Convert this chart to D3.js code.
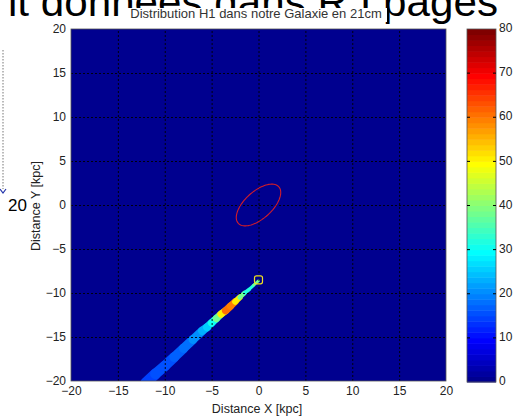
<!DOCTYPE html>
<html>
<head>
<meta charset="utf-8">
<script src="https://cdn.jsdelivr.net/npm/d3@7"></script>
<style>
  body { margin: 0; background: #fff; }
  svg { display: block; font-family: "Liberation Sans", Arial, sans-serif; }
</style>
</head>
<body>
<div id="carte"></div>
<script>
// Valeurs
const ticksXY = [-20, -15, -10, -5, 0, 5, 10, 15, 20];
const ticksBarre = [0, 10, 20, 30, 40, 50, 60, 70, 80];
const fondValeur = 0;

// trainee H1 vue depuis le soleil (x, y en kpc, intensite, largeur en kpc)
const traineeX = [-12, -11, -10, -9, -8, -7, -6, -5.5, -5, -4.5, -4, -3.5, -3, -2.5, -2, -1.5, -1, -0.5, 0];
const traineeY = [-20.2, -19.2, -18.3, -17.3, -16.3, -15.3, -14.3, -13.9, -13.4, -12.9, -12.4, -12.0, -11.5, -11.0, -10.5, -10.0, -9.6, -9.1, -8.6];
const traineeV = [14, 15, 15, 16, 17, 19, 21, 24, 28, 33, 42, 58, 63, 56, 46, 30, 33, 30, 45];
const traineeL = [1.2, 1.15, 1.1, 1.05, 1.0, 0.95, 0.9, 0.85, 0.8, 0.78, 0.75, 0.78, 0.8, 0.7, 0.55, 0.42, 0.36, 0.3, 0.3];

const soleil = [0, -8.5];
// ellipse rouge : centre, demi-axes, angle
const ellipseCentre = [0, 0];
const ellipseAxes = [3.0, 1.5];
const ellipseAngle = 45;

const svg = d3.select("#carte").append("svg")
    .attr("width", 514)
    .attr("height", 419);

// texte de la page derriere la figure
svg.append("text")
    .attr("x", 8).attr("y", 16)
    .attr("font-size", 41)
    .attr("textLength", 490)
    .attr("lengthAdjust", "spacingAndGlyphs")
    .attr("fill", "#000")
    .text("it données dans R I pages");

// restes a gauche
svg.append("line")
    .attr("x1", 3).attr("x2", 3).attr("y1", 50).attr("y2", 189)
    .attr("stroke", "#777").attr("stroke-dasharray", "1.5,1.5");
svg.append("path")
    .attr("d", "M0,189 L3,193 L6,189")
    .attr("fill", "none").attr("stroke", "#2233aa").attr("stroke-width", 1.2);
svg.append("text")
    .attr("x", 8).attr("y", 211)
    .attr("font-size", 17)
    .attr("fill", "#000")
    .text("20");

const margin = {top: 29, left: 71};
const width = 375, height = 352;

const x = d3.scaleLinear().domain([-20, 20]).range([0, width]);
const y = d3.scaleLinear().domain([-20, 20]).range([height, 0]);

// colormap jet(64) facon matlab
const clamp = v => Math.max(0, Math.min(1, v));
const jet = t => {
    const k = Math.min(63, Math.max(0, Math.floor(t * 64)));
    const u = (k + 1) / 64;
    return d3.rgb(255 * clamp(1.5 - Math.abs(4 * u - 3)),
                  255 * clamp(1.5 - Math.abs(4 * u - 2)),
                  255 * clamp(1.5 - Math.abs(4 * u - 1))).toString();
};
const couleur = v => jet(v / 80);

const g = svg.append("g")
    .attr("transform", `translate(${margin.left},${margin.top})`);

g.append("clipPath").attr("id", "clip")
  .append("rect").attr("width", width).attr("height", height);

g.append("rect")
    .attr("width", width).attr("height", height)
    .attr("fill", couleur(fondValeur));

const zone = g.append("g").attr("clip-path", "url(#clip)");

const pts = traineeX.map((d, i) => ({x: d, y: traineeY[i], v: traineeV[i], l: traineeL[i]}));
const segs = pts.slice(1).map((d, i) => [pts[i], d]);

zone.selectAll(".seg")
  .data(segs)
  .join("line")
    .attr("class", "seg")
    .attr("x1", d => x(d[0].x)).attr("y1", d => y(d[0].y))
    .attr("x2", d => x(d[1].x)).attr("y2", d => y(d[1].y))
    .attr("stroke", d => couleur((d[0].v + d[1].v) / 2))
    .attr("stroke-width", d => (d[0].l + d[1].l) / 2 * (x(1) - x(0)))
    .attr("stroke-linecap", "round");

// grille
const xAxis = g.append("g")
    .attr("transform", `translate(0,${height})`)
    .call(d3.axisBottom(x).tickValues(ticksXY).tickSize(-height).tickPadding(5).tickFormat(d3.format("d")));
const yAxis = g.append("g")
    .call(d3.axisLeft(y).tickValues(ticksXY).tickSize(-width).tickPadding(5).tickFormat(d3.format("d")));

[xAxis, yAxis].forEach(a => {
    a.select(".domain").remove();
    a.selectAll(".tick line")
        .attr("stroke", "#000")
        .attr("stroke-dasharray", "2,2")
        .attr("opacity", 0.9);
    a.selectAll(".tick text")
        .attr("fill", "#222")
        .attr("font-size", 12)
        .attr("font-family", "'Liberation Sans', Arial, sans-serif");
});
xAxis.selectAll(".tick").filter(d => d === -20 || d === 20).select("line").remove();
yAxis.selectAll(".tick").filter(d => d === -20 || d === 20).select("line").remove();

// ellipse
const rad = ellipseAngle * Math.PI / 180;
const ellipse = d3.range(0, 361, 4).map(t => {
    const a = t * Math.PI / 180;
    const ex = ellipseAxes[0] * Math.cos(a), ey = ellipseAxes[1] * Math.sin(a);
    return [ellipseCentre[0] + ex * Math.cos(rad) - ey * Math.sin(rad),
            ellipseCentre[1] + ex * Math.sin(rad) + ey * Math.cos(rad)];
});
g.append("path")
    .attr("d", d3.line().x(d => x(d[0])).y(d => y(d[1]))(ellipse))
    .attr("fill", "none")
    .attr("stroke", "#d01c2a")
    .attr("stroke-width", 1.1);

// soleil
g.append("rect")
    .attr("x", x(soleil[0]) - 4).attr("y", y(soleil[1]) - 4)
    .attr("width", 8).attr("height", 8).attr("rx", 2)
    .attr("fill", "none")
    .attr("stroke", "#f0e020")
    .attr("stroke-width", 1.2);

g.append("rect")
    .attr("width", width).attr("height", height)
    .attr("fill", "none").attr("stroke", "#555").attr("stroke-width", 0.8);

// titres
svg.append("rect")
    .attr("x", 125).attr("y", 8).attr("width", 262).attr("height", 14)
    .attr("fill", "#fff");
svg.append("text")
    .attr("x", 256).attr("y", 18)
    .attr("text-anchor", "middle")
    .attr("font-size", 13)
    .attr("fill", "#333")
    .text("Distribution H1 dans notre Galaxie en 21cm");

svg.append("text")
    .attr("x", 257).attr("y", 413)
    .attr("text-anchor", "middle")
    .attr("font-size", 12.5)
    .attr("fill", "#222")
    .text("Distance X [kpc]");

svg.append("text")
    .attr("transform", "translate(40,206) rotate(-90)")
    .attr("text-anchor", "middle")
    .attr("font-size", 12.5)
    .attr("fill", "#222")
    .text("Distance Y [kpc]");

// barre de couleur
const barre = svg.append("g").attr("transform", "translate(467,29)");
const yb = d3.scaleLinear().domain([0, 80]).range([353, 0]);
const niveaux = d3.range(64);
barre.selectAll("rect.niv")
  .data(niveaux)
  .join("rect")
    .attr("class", "niv")
    .attr("x", 0)
    .attr("width", 29)
    .attr("y", d => yb((d + 1) * 80 / 64))
    .attr("height", yb(0) - yb(80 / 64) + 0.5)
    .attr("fill", d => couleur((d + 0.5) * 80 / 64));
barre.append("rect")
    .attr("width", 29).attr("height", 353)
    .attr("fill", "none").attr("stroke", "#555").attr("stroke-width", 0.8);
barre.selectAll(".tg")
  .data(ticksBarre.slice(1, -1))
  .join("line")
    .attr("x1", 0).attr("x2", 3)
    .attr("y1", d => yb(d)).attr("y2", d => yb(d))
    .attr("stroke", "#000");
barre.selectAll(".td")
  .data(ticksBarre.slice(1, -1))
  .join("line")
    .attr("x1", 26).attr("x2", 29)
    .attr("y1", d => yb(d)).attr("y2", d => yb(d))
    .attr("stroke", "#000");
barre.selectAll(".lab")
  .data(ticksBarre)
  .join("text")
    .attr("x", 32)
    .attr("y", d => yb(d) - 1)
    .attr("dy", "0.35em")
    .attr("font-size", 12)
    .attr("fill", "#222")
    .text(d => d);
</script>
</body>
</html>
